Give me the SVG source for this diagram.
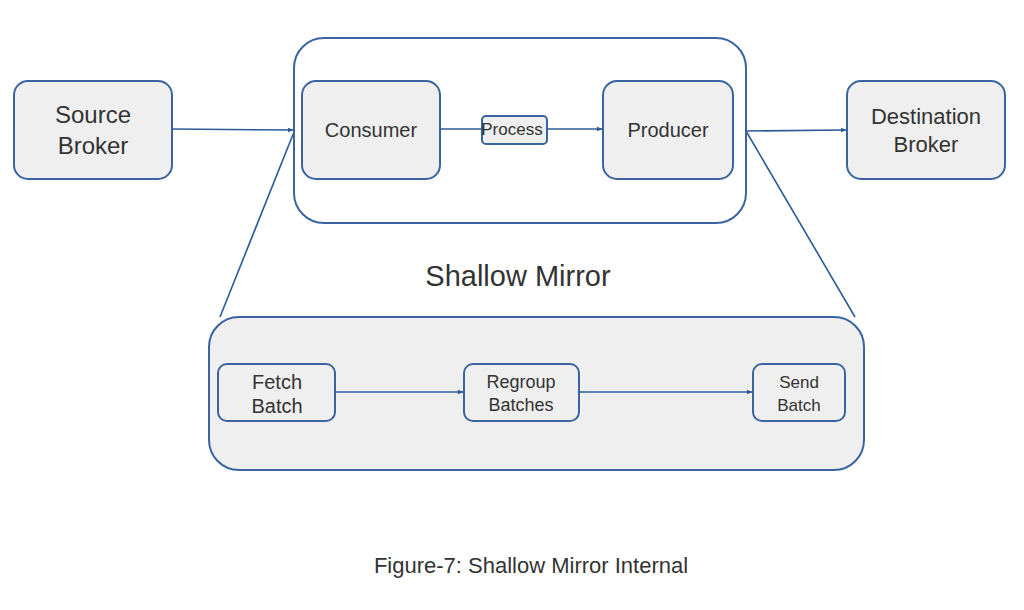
<svg xmlns="http://www.w3.org/2000/svg" width="1024" height="610" viewBox="0 0 1024 610">
<defs>
<marker id="ah" viewBox="0 0 10 10" refX="9" refY="5" markerWidth="6" markerHeight="6" orient="auto" markerUnits="userSpaceOnUse"><path d="M0,1 L10,5 L0,9 z" fill="#2c5a96"/></marker>
<style>
.box{fill:#efefef;stroke:#3a64a0;stroke-width:2}
.outer{fill:#ffffff;stroke:#3a64a0;stroke-width:2}
.ln{stroke:#2c5a96;stroke-width:1.6;fill:none}
.t{font-family:"Liberation Sans",Arial,sans-serif;fill:#333333;text-anchor:middle}
</style>
</defs>
<rect width="1024" height="610" fill="#ffffff"/>
<g id="connectors">
<line class="ln" x1="294" y1="132" x2="220" y2="317"/>
<line class="ln" x1="746" y1="131" x2="855" y2="317"/>
</g>
<g id="shallow-mirror"><rect class="outer" x="294" y="38" width="452" height="185" rx="30"/></g>
<g id="source-broker"><rect class="box" x="14" y="81" width="158" height="98" rx="14"/>
<text class="t" x="93" y="123" font-size="24">Source</text><text class="t" x="93" y="154" font-size="24">Broker</text></g>
<g id="consumer"><rect class="box" x="302" y="81" width="138" height="98" rx="14"/>
<text class="t" x="371" y="137" font-size="20">Consumer</text></g>
<g id="producer"><rect class="box" x="603" y="81" width="130" height="98" rx="14"/>
<text class="t" x="668" y="137" font-size="20">Producer</text></g>
<g id="destination-broker"><rect class="box" x="847" y="81" width="158" height="98" rx="14"/>
<text class="t" x="926" y="124" font-size="22">Destination</text><text class="t" x="926" y="152" font-size="22">Broker</text></g>
<g id="process"><rect class="box" x="482" y="116" width="65" height="28" rx="4"/>
<text class="t" x="512" y="135" font-size="17">Process</text></g>
<g id="label"><text class="t" x="518" y="286" font-size="29">Shallow Mirror</text></g>
<g id="internal"><rect class="box" x="209" y="317" width="655" height="153" rx="30"/></g>
<g id="fetch-batch"><rect class="box" x="218" y="364" width="117" height="57" rx="9"/>
<text class="t" x="277" y="389" font-size="20">Fetch</text><text class="t" x="277" y="413" font-size="20">Batch</text></g>
<g id="regroup-batches"><rect class="box" x="464" y="364" width="115" height="57" rx="9"/>
<text class="t" x="521" y="388" font-size="18">Regroup</text><text class="t" x="521" y="411" font-size="18">Batches</text></g>
<g id="send-batch"><rect class="box" x="753" y="364" width="92" height="57" rx="9"/>
<text class="t" x="799" y="388" font-size="17">Send</text><text class="t" x="799" y="411" font-size="17">Batch</text></g>
<g id="arrows">
<line class="ln" x1="172" y1="129" x2="293" y2="130" marker-end="url(#ah)"/>
<line class="ln" x1="440" y1="129" x2="482" y2="129"/>
<line class="ln" x1="547" y1="129" x2="602" y2="129" marker-end="url(#ah)"/>
<line class="ln" x1="746" y1="131" x2="846" y2="130" marker-end="url(#ah)"/>
<line class="ln" x1="335" y1="392" x2="463" y2="392" marker-end="url(#ah)"/>
<line class="ln" x1="579" y1="392" x2="752" y2="392" marker-end="url(#ah)"/>
</g>
<g id="caption"><text class="t" x="531" y="573" font-size="22">Figure-7: Shallow Mirror Internal</text></g>
</svg>
